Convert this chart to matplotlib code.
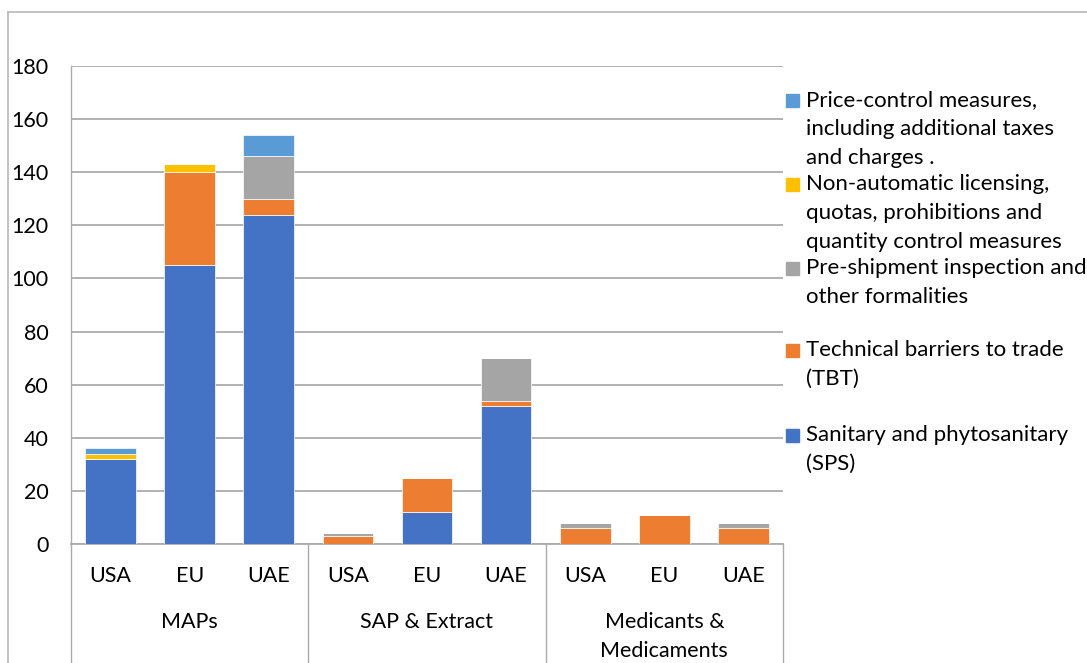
import matplotlib
matplotlib.use("Agg")
import matplotlib.pyplot as plt
from matplotlib.lines import Line2D
from matplotlib.patches import Rectangle
import numpy as np

plt.rcParams['font.family'] = ['Lato', 'DejaVu Sans']

# Data
groups = ["MAPs", "SAP & Extract", "Medicants &\nMedicaments"]
markets = ["USA", "EU", "UAE"]
sps = [32, 105, 124, 0, 12, 52, 0, 0, 0]
tbt = [0, 35, 6, 3, 13, 2, 6, 11, 6]
preship = [0, 0, 16, 1, 0, 16, 2, 0, 2]
nonauto = [2, 3, 0, 0, 0, 0, 0, 0, 0]
price = [2, 0, 8, 0, 0, 0, 0, 0, 0]

series_names = [
    "Sanitary and phytosanitary\n(SPS)",
    "Technical barriers to trade\n(TBT)",
    "Pre-shipment inspection and\nother formalities",
    "Non-automatic licensing,\nquotas, prohibitions and\nquantity control measures",
    "Price-control measures,\nincluding additional taxes\nand charges .",
]
series_values = [sps, tbt, preship, nonauto, price]
colors = ["#4472C4", "#ED7D31", "#A5A5A5", "#FFC000", "#5B9BD5"]
yticks = list(range(0, 181, 20))

W, H = 1087, 663
fig = plt.figure(figsize=(W / 100, H / 100), dpi=100)

def fx(px):
    return px / W

def fy(py):
    return 1 - py / H

AXIS_FS = 15.5
LEGEND_FS = 16

# plot area
x0, x1, ytop, ybot = 71, 783, 66, 544
ax = fig.add_axes([fx(x0), fy(ybot), fx(x1 - x0), (ybot - ytop) / H])

grid_col = "#ABABAB"
n = len(sps)
xs = np.arange(n) + 0.5
bottom = np.zeros(n)
for vals, col in zip(series_values, colors):
    v = np.array(vals, dtype=float)
    ax.bar(xs, v, width=0.64, bottom=bottom, color=col,
           edgecolor="white", linewidth=0.5, zorder=3)
    bottom += v

ax.set_xlim(0, n)
ax.set_ylim(0, 180)
ax.set_yticks(yticks)
ax.set_yticklabels([str(t) for t in yticks], fontsize=AXIS_FS, color="black")
ax.tick_params(axis="y", length=0, pad=16)
ax.set_xticks([])
ax.grid(axis="y", color=grid_col, linewidth=1.3, zorder=0)
for s in ["top", "right"]:
    ax.spines[s].set_visible(False)
ax.spines["left"].set_color(grid_col)
ax.spines["bottom"].set_color(grid_col)
ax.spines["left"].set_linewidth(1.0)
ax.spines["bottom"].set_linewidth(1.3)

# category axis labels
trans = ax.get_xaxis_transform()
span = ybot - ytop
depth = -(H - ybot + 5) / span
for i, x in enumerate(xs):
    ax.text(x, -(576 - ybot) / span, markets[i % 3], transform=trans,
            ha="center", va="center", fontsize=AXIS_FS)
for g, name in enumerate(groups):
    lines = name.split("\n")
    for k, line in enumerate(lines):
        ax.text(3 * g + 1.5, -(622 + 29 * k - ybot) / span, line,
                transform=trans, ha="center", va="center", fontsize=AXIS_FS)
for xb in [0, 3, 6, 9]:
    ax.add_line(Line2D([xb, xb], [0, depth], transform=trans, color=grid_col,
                       linewidth=1.0, clip_on=False))

# legend
legend_y = [435, 350, 268, 184, 100]
for name, col, ly in zip(series_names, colors, legend_y):
    fig.patches.append(Rectangle((fx(786), fy(ly + 7)), fx(13), 13 / H,
                                 transform=fig.transFigure, color=col))
    for k, line in enumerate(name.split("\n")):
        fig.text(fx(806), fy(ly + 29 * k), line, ha="left", va="center",
                 fontsize=LEGEND_FS)

# outer chart border
fig.add_artist(Line2D([fx(8), 1], [fy(11.5), fy(11.5)], transform=fig.transFigure,
                      color="#B8B8B8", linewidth=1.2))
fig.add_artist(Line2D([fx(8), fx(8)], [0, fy(11.5)], transform=fig.transFigure,
                      color="#B8B8B8", linewidth=1.2))

fig.savefig("out.png", dpi=100)
